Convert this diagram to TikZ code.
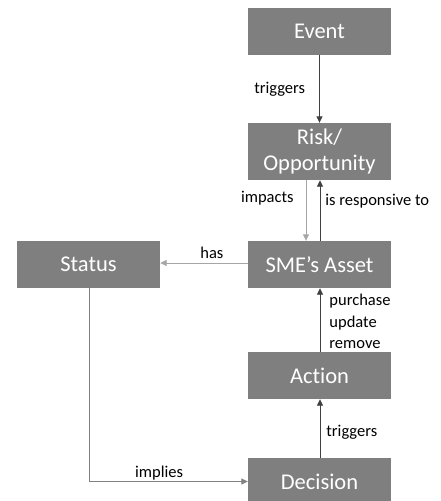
\documentclass[tikz,border=0pt]{standalone}
\usepackage{fontspec}
\setmainfont{Carlito}[Ligatures=NoCommon]
\usetikzlibrary{arrows.meta}
\definecolor{boxgray}{HTML}{7F7F7F}
\definecolor{darkline}{HTML}{404040}
\definecolor{lightline}{HTML}{A6A6A6}
\definecolor{midline}{HTML}{808080}
\tikzset{
  box/.style={fill=boxgray, text=white, minimum width=143pt, minimum height=47pt,
    inner sep=0pt, font=\fontsize{22.5}{26}\selectfont, align=center},
  lbl/.style={inner sep=0pt, font=\fontsize{16.5}{21.5}\selectfont, text=black},
  conn/.style={line width=0.9pt, -{Triangle[length=6.5pt,width=6pt]}},
}
\begin{document}
\begin{tikzpicture}[x=1pt,y=-1pt]
\useasboundingbox (0,0) rectangle (440,501);
\clip (0,0) rectangle (440,501);
\node[box] (event) at (319.5,31.5) {Event};
\node[box, minimum height=57pt] (risk) at (319.5,151.5) {Risk/\\Opportunity};
\node[box] (asset) at (319.5,264.5) {SME’s Asset};
\node[box] (status) at (88.5,264.5) {Status};
\node[box] (action) at (319.5,375.5) {Action};
\node[box] (decision) at (319.5,481.5) {Decision};

\draw[conn, darkline] (event.south) -- node[lbl, pos=0.51, left=14pt] {triggers} (risk.north);
\draw[conn, lightline] ([xshift=-13.5pt]risk.south) -- node[lbl, pos=0.3, left=12pt] {impacts} ([xshift=-13.5pt]asset.north);
\draw[conn, darkline] ([xshift=0.5pt]asset.north) -- node[lbl, pos=0.65, right=5pt] {is responsive to} ([xshift=0.5pt]risk.south);
\draw[conn, lightline] ([yshift=1.5pt]asset.west) -- node[lbl, pos=0.41, above=4pt] {has} ([yshift=1.5pt]status.east);
\draw[conn, darkline] ([xshift=0.5pt]action.north) -- ([xshift=0.5pt]asset.south)
  node[lbl, pos=0.04, anchor=south west, align=left, xshift=9pt] {purchase\\update\\remove};
\draw[conn, darkline] ([xshift=0.5pt]decision.north) -- node[lbl, pos=0.44, right=6pt] {triggers} ([xshift=0.5pt]action.south);
\draw[conn, midline] ([xshift=1pt]status.south) |- node[lbl, pos=0.72, above=1pt] {implies} (decision.west);
\end{tikzpicture}
\end{document}
